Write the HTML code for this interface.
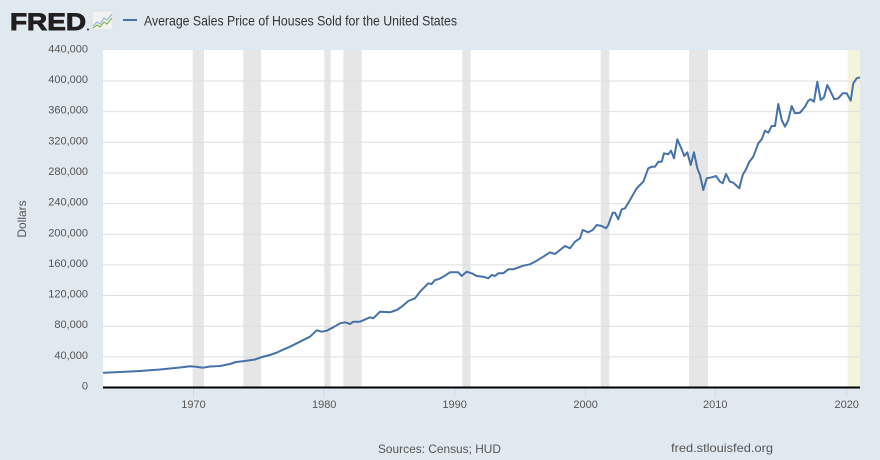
<!DOCTYPE html>
<html>
<head>
<meta charset="utf-8">
<style>
html,body{margin:0;padding:0;background:#e1e9f0;}
svg{display:block;}
text{font-family:"Liberation Sans",sans-serif;}
</style>
</head>
<body>
<svg width="880" height="460" viewBox="0 0 880 460" xmlns="http://www.w3.org/2000/svg">
<rect x="0" y="0" width="880" height="460" fill="#e1e9f0"/>
<!-- header -->
<text x="10" y="30" font-size="24" font-weight="bold" fill="#231f20" stroke="#231f20" stroke-width="0.9" textLength="76" lengthAdjust="spacingAndGlyphs">FRED</text>
<circle cx="88" cy="29.5" r="1" fill="#231f20"/>
<rect x="92" y="11" width="21" height="19" rx="2" fill="#f2f2f2" stroke="#d8d8d8" stroke-width="0.6"/>
<polyline points="93,26 97,22 100,24 104,18 107,20 112,14" fill="none" stroke="#8fb3d9" stroke-width="1.1"/>
<polyline points="93,28 97,25 100,27 104,22 107,24 112,18" fill="none" stroke="#7cb342" stroke-width="1.1"/>
<line x1="123" y1="20" x2="137" y2="20" stroke="#4572a7" stroke-width="2"/>
<text x="144" y="25.5" font-size="14" fill="#333" textLength="313" lengthAdjust="spacingAndGlyphs">Average Sales Price of Houses Sold for the United States</text>

<!-- plot area -->
<rect x="103" y="50" width="757" height="337.5" fill="#ffffff"/>
<!-- recession bars -->
<g fill="#e6e6e6">
<rect x="192.7" y="50" width="11.3" height="337.5"/>
<rect x="243.3" y="50" width="17.7" height="337.5"/>
<rect x="324.3" y="50" width="6.4" height="337.5"/>
<rect x="343.3" y="50" width="18.4" height="337.5"/>
<rect x="462.3" y="50" width="8.4" height="337.5"/>
<rect x="600.7" y="50" width="8.6" height="337.5"/>
<rect x="689" y="50" width="19" height="337.5"/>
</g>
<rect x="847.7" y="50" width="12.3" height="337.5" fill="#f4f4dd"/>
<!-- gridlines -->
<g stroke="#dedede" stroke-width="1">
<line x1="103" y1="356.85" x2="860" y2="356.85"/>
<line x1="103" y1="326.2" x2="860" y2="326.2"/>
<line x1="103" y1="295.55" x2="860" y2="295.55"/>
<line x1="103" y1="264.9" x2="860" y2="264.9"/>
<line x1="103" y1="234.25" x2="860" y2="234.25"/>
<line x1="103" y1="203.6" x2="860" y2="203.6"/>
<line x1="103" y1="172.95" x2="860" y2="172.95"/>
<line x1="103" y1="142.3" x2="860" y2="142.3"/>
<line x1="103" y1="111.65" x2="860" y2="111.65"/>
<line x1="103" y1="81" x2="860" y2="81"/>
</g>
<!-- y labels -->
<g font-size="11" fill="#555" text-anchor="end">
<text x="88" y="52.4">440,000</text>
<text x="88" y="83">400,000</text>
<text x="88" y="113.7">360,000</text>
<text x="88" y="144.3">320,000</text>
<text x="88" y="175">280,000</text>
<text x="88" y="205.6">240,000</text>
<text x="88" y="236.3">200,000</text>
<text x="88" y="266.9">160,000</text>
<text x="88" y="297.6">120,000</text>
<text x="88" y="328.2">80,000</text>
<text x="88" y="358.9">40,000</text>
<text x="88" y="389.5">0</text>
</g>
<text transform="translate(26,219) rotate(-90)" font-size="12" fill="#555" text-anchor="middle">Dollars</text>

<!-- x ticks -->
<g stroke="#ccd6eb" stroke-width="1">
<line x1="193.5" y1="388" x2="193.5" y2="397"/>
<line x1="324.2" y1="388" x2="324.2" y2="397"/>
<line x1="454.9" y1="388" x2="454.9" y2="397"/>
<line x1="585.6" y1="388" x2="585.6" y2="397"/>
<line x1="715.3" y1="388" x2="715.3" y2="397"/>
<line x1="846.7" y1="388" x2="846.7" y2="397"/>
</g>
<g font-size="11" fill="#555" text-anchor="middle">
<text x="193.5" y="408">1970</text>
<text x="324.2" y="408">1980</text>
<text x="454.6" y="408">1990</text>
<text x="585.6" y="408">2000</text>
<text x="715.3" y="408">2010</text>
<text x="846.7" y="408">2020</text>
</g>

<!-- series -->
<polyline fill="none" stroke="#4572a7" stroke-width="2" stroke-linejoin="round" points="103,372.7 110,372.5 120,372 130,371.5 140,371 150,370.2 160,369.5 170,368.5 180,367.5 190,366.3 196,366.7 203,367.7 210,366.5 220,366 230,364 236,362 245,361 255,359.5 262,357 270,355 277,352.5 283,349.7 290,346.7 300,341.7 310,336.7 316.7,330.3 321.7,331.7 326.7,330.7 333.3,327.3 340,323.3 345,322.3 350,324 353.3,321.7 360,321.7 370,317.3 373.3,318.3 380,311.7 390,312.3 396.7,310 401.7,306.7 408.3,301 415,298.3 420,291.7 428.3,283.3 431.7,284 435,280 438.3,279.3 443.3,276.7 450,272.3 455,272.3 458.3,272.3 461.7,276 466.7,271.7 471.7,273.3 476.7,276 483.3,276.7 488.3,278.3 491.7,275 495,276 498.3,273.3 503.3,273.3 508.3,269.3 513.3,269.3 517.7,267.7 523.3,265.7 530,264.3 536.7,260.7 543.3,256.7 550,252.3 555,254 560,250 565,246 570,248.3 575,241.7 580,238.3 582.7,230 588.3,232.3 592.7,230 596.7,225 601.7,226 606,228.3 608.3,225 612.7,212.7 615,212.7 618.3,219.3 621.7,209.3 625,208.3 630,200 636.7,188.3 640,185 643.3,181.7 648.3,168.3 651.7,166.7 655,166.7 658.3,161.7 661.7,161.7 664,153.3 668.3,154.3 671,150.7 674,158.3 677.3,139.3 681.7,149.3 684.3,156 687.3,152.3 690.7,165 694,152.3 697.3,168.3 700,175 703.3,190 706.7,178.3 711.7,177.3 716,176 720,181.7 722.7,183.3 726,174 730,181.7 733.3,182.7 739.3,188.3 742.7,175 746,169.3 749.3,161.7 753.3,156.7 758.3,143.3 761.7,139.3 765,130.7 768.3,132.7 771.7,126 775,126 778.3,104 781.7,120 785,126.7 788.3,120 791.7,106 795,113.3 800,112.7 805,106.7 808.3,100.7 810.7,99.3 814,101.7 817.3,81.7 820.7,100 824,97.3 827.3,85 830.7,91.7 834.3,99.3 838.3,98.3 842.7,93.3 846.7,93.3 850.7,100.7 853.3,83.3 856.7,78.3 860,77.3"/>

<!-- axis line -->
<line x1="103" y1="387.5" x2="860" y2="387.5" stroke="#000" stroke-width="2"/>

<!-- footer -->
<text x="378" y="453" font-size="12" fill="#555" textLength="123" lengthAdjust="spacingAndGlyphs">Sources: Census; HUD</text>
<text x="671" y="452" font-size="12" fill="#555" textLength="102" lengthAdjust="spacingAndGlyphs">fred.stlouisfed.org</text>
</svg>
</body>
</html>
